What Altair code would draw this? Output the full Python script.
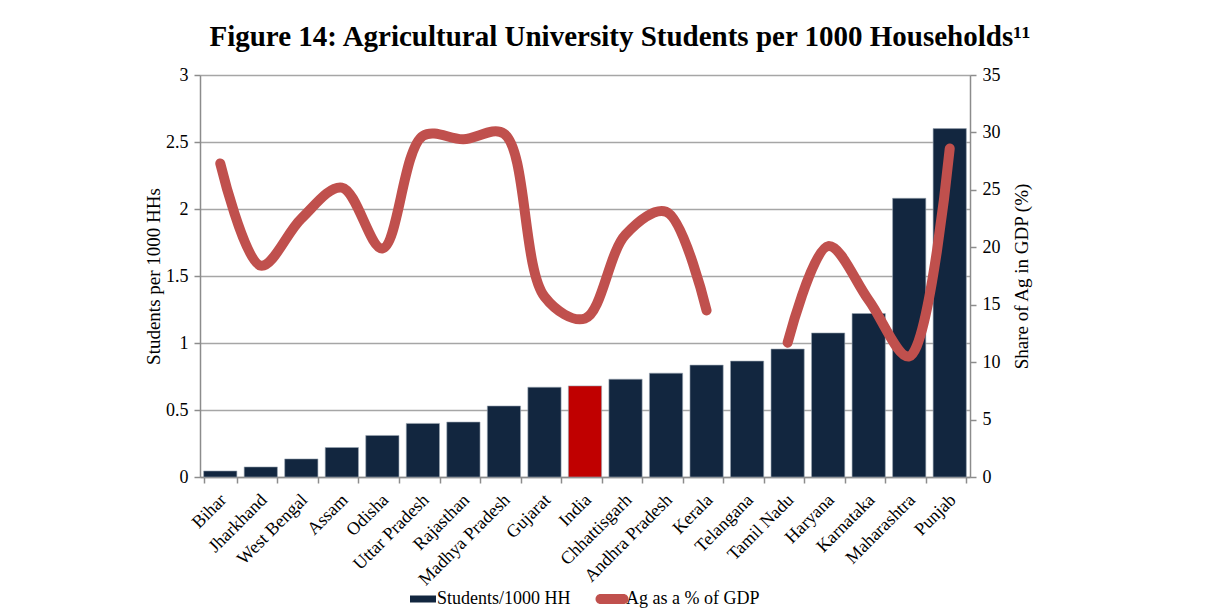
import altair as alt
import pandas as pd

states = ["Bihar", "Jharkhand", "West Bengal", "Assam", "Odisha", "Uttar Pradesh",
          "Rajasthan", "Madhya Pradesh", "Gujarat", "India", "Chhattisgarh",
          "Andhra Pradesh", "Kerala", "Telangana", "Tamil Nadu", "Haryana",
          "Karnataka", "Maharashtra", "Punjab"]
students = [0.045, 0.075, 0.135, 0.22, 0.31, 0.40, 0.41, 0.53, 0.67, 0.68, 0.73,
            0.775, 0.835, 0.865, 0.955, 1.075, 1.22, 2.08, 2.60]
ag_share = [27.3, 18.4, 22.5, 25.2, 19.9, 29.7, 29.4, 29.9, 15.7, 13.8, 21.1,
            23.1, 14.5, None, 11.7, 20.1, 15.4, 10.5, 28.6]
segment = [1] * 13 + [0] + [2] * 5

FONT = "Liberation Serif"
NAVY = "#12263F"
RED_BAR = "#C00000"
RED_LINE = "#C0504D"
GRID = "#A6A6A6"
AXC = "#8C8C8C"

df = pd.DataFrame({"state": states, "students": students, "ag": ag_share, "seg": segment})
df["s_series"] = "Students/1000 HH"
df["l_series"] = "Ag as a % of GDP"

xenc = alt.X("state:N", sort=states, title=None,
             scale=alt.Scale(paddingInner=0.18, paddingOuter=0.09),
             axis=alt.Axis(labelAngle=-45, labelFont=FONT, labelFontSize=18, labelColor="black",
                           labelAlign="right", labelBaseline="middle", labelOffset=3,
                           tickBand="extent", tickColor=AXC, tickSize=6, domainColor=AXC,
                           domainWidth=1.5, tickWidth=1.5, labelPadding=14, grid=False))

base = alt.Chart(df)

bars = base.mark_bar(stroke="#9AA6B2", strokeWidth=0.6).encode(
    x=xenc,
    y=alt.Y("students:Q", title="Students per 1000 HHs",
            scale=alt.Scale(domain=[0, 3], nice=False),
            axis=alt.Axis(values=[0, 0.5, 1, 1.5, 2, 2.5, 3], format="~g", orient="left",
                          labelFont=FONT, labelFontSize=18, labelColor="black",
                          titleFont=FONT, titleFontSize=19, titleFontWeight="normal", titleColor="black",
                          titlePadding=2, grid=True, gridColor=GRID, gridWidth=1.5,
                          domainColor=AXC, domainWidth=1.5, tickColor=AXC,
                          tickWidth=1.5, tickSize=6, labelPadding=6)),
    fill=alt.condition(
        alt.datum.state == "India",
        alt.value(RED_BAR),
        alt.Fill("s_series:N", scale=alt.Scale(domain=["Students/1000 HH"], range=[NAVY]),
                 legend=alt.Legend(title=None, orient="none", legendX=213, legendY=514,
                                   symbolType="M-1.3,-0.35H1.3V0.35H-1.3Z", symbolSize=400,
                                   symbolStrokeWidth=0, labelFont=FONT, labelFontSize=18,
                                   labelColor="black", labelOffset=4)),
    ),
)

line = base.transform_filter("isValid(datum.ag)").mark_line(
    strokeWidth=10, strokeCap="round", strokeJoin="round", interpolate="catmull-rom"
).encode(
    x=alt.X("state:N", sort=states),
    y=alt.Y("ag:Q", title="Share of Ag in GDP (%)",
            scale=alt.Scale(domain=[0, 35], nice=False),
            axis=alt.Axis(values=[0, 5, 10, 15, 20, 25, 30, 35], orient="right",
                          labelFont=FONT, labelFontSize=18, labelColor="black",
                          titleFont=FONT, titleFontSize=19, titleFontWeight="normal", titleColor="black",
                          titleAngle=270, titleBaseline="top", titlePadding=12, grid=False,
                          domainColor=AXC, domainWidth=1.5, tickColor=AXC,
                          tickWidth=1.5, tickSize=6, labelPadding=6)),
    detail="seg:N",
    stroke=alt.Stroke("l_series:N", scale=alt.Scale(domain=["Ag as a % of GDP"], range=[RED_LINE]),
                      legend=alt.Legend(title=None, orient="none", legendX=402, legendY=514,
                                        symbolType="M-1.15,-0.5H1.15A0.5,0.5 0 0 1 1.15,0.5H-1.15A0.5,0.5 0 0 1 -1.15,-0.5Z",
                                        symbolSize=400, symbolStrokeWidth=0,
                                        symbolFillColor=RED_LINE,
                                        labelFont=FONT, labelFontSize=18, labelColor="black",
                                        labelOffset=4)),
)

chart = alt.layer(bars, line).resolve_scale(y="independent").properties(
    width=770, height=402,
    title=alt.TitleParams("Figure 14: Agricultural University Students per 1000 Households¹¹",
                          font=FONT, fontSize=29, fontWeight="bold", color="black",
                          anchor="middle", dx=35, offset=14),
    autosize=alt.AutoSizeParams(type="none"),
    padding={"left": 192, "top": 67, "right": 220, "bottom": 138},
).configure_view(stroke=None).configure(background="white")

chart.save("out.html", embed_options={"renderer": "svg", "actions": False})
